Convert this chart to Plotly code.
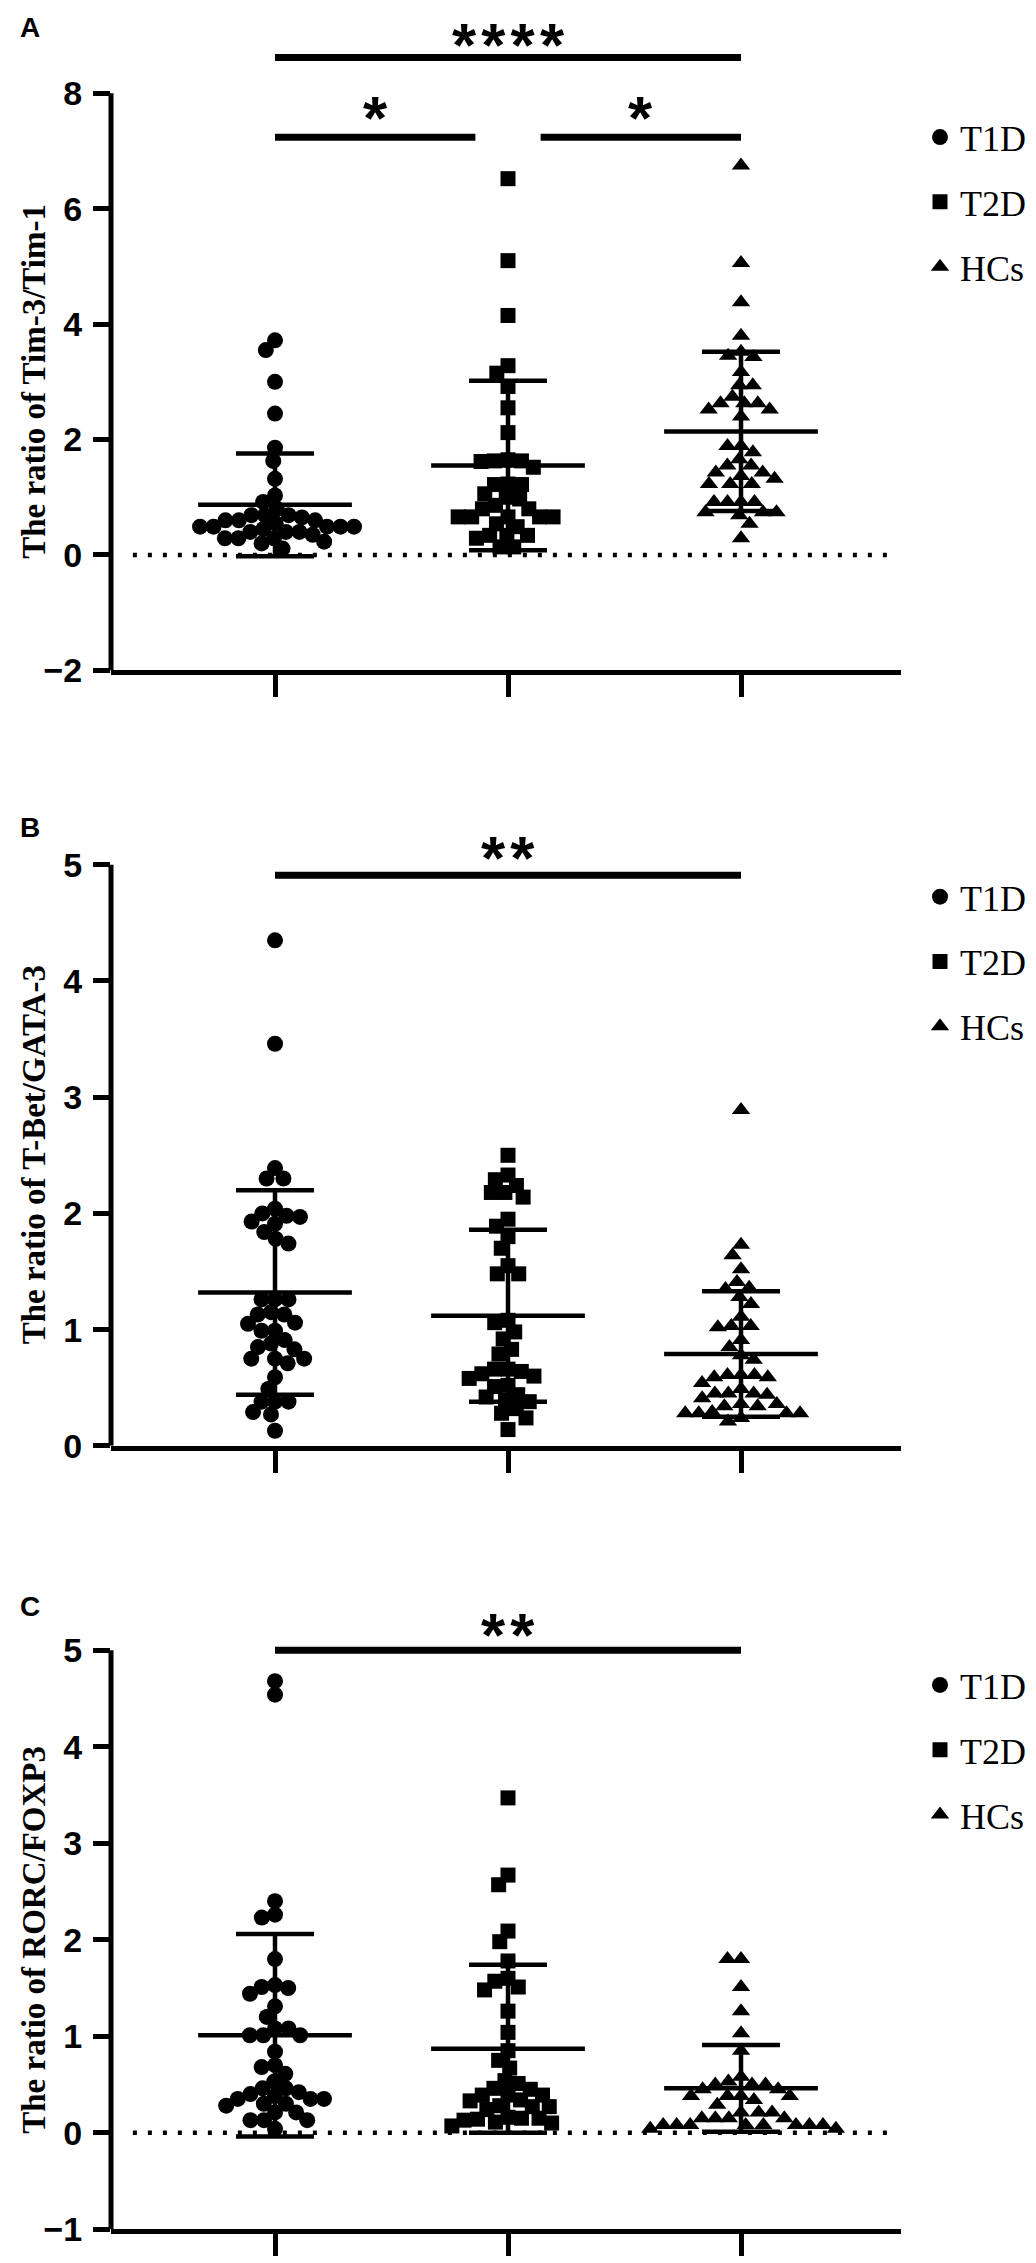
import math
import plotly.graph_objects as go

groups = ["T1D", "T2D", "HCs"]
symbols = ["circle", "square", "triangle-up"]

# panel A: Tim-3/Tim-1
tim_t1d = [3.72, 3.55, 3.0, 2.45, 1.86, 1.63, 1.32, 1.03, 0.92, 0.80, 0.69, 0.69, 0.69, 0.65,
           0.60, 0.60, 0.60, 0.55, 0.49, 0.49, 0.49, 0.49, 0.49, 0.45, 0.40, 0.40, 0.40, 0.35,
           0.29, 0.29, 0.29, 0.23, 0.20, 0.11]
tim_t2d = [6.52, 5.10, 4.15, 3.28, 3.15, 2.92, 2.55, 2.12, 1.65, 1.63, 1.63, 1.62, 1.52, 1.23,
           1.22, 1.22, 1.06, 1.00, 0.97, 0.86, 0.80, 0.80, 0.66, 0.66, 0.66, 0.66, 0.66, 0.54,
           0.49, 0.34, 0.34, 0.34, 0.29, 0.14, 0.14]
tim_hcs = [6.75, 5.06, 4.38, 3.80, 3.52, 3.45, 3.43, 3.17, 2.94, 2.94, 2.74, 2.63, 2.63, 2.63,
           2.52, 2.52, 2.40, 1.89, 1.89, 1.78, 1.66, 1.55, 1.55, 1.43, 1.43, 1.37, 1.32, 1.23,
           1.23, 1.23, 0.92, 0.92, 0.92, 0.92, 0.74, 0.74, 0.74, 0.69, 0.54, 0.29]
tim_mean = [0.87, 1.55, 2.14]
tim_sd = [0.89, 1.47, 1.38]

# panel B: T-Bet/GATA-3
tbet_t1d = [4.35, 3.46, 2.39, 2.30, 2.30, 2.04, 2.00, 1.98, 1.97, 1.93, 1.91, 1.84, 1.78, 1.74,
            1.26, 1.26, 1.26, 1.15, 1.13, 1.13, 1.06, 1.05, 0.99, 0.99, 0.91, 0.88, 0.85, 0.83,
            0.75, 0.75, 0.75, 0.71, 0.59, 0.49, 0.38, 0.38, 0.38, 0.29, 0.27, 0.13]
tbet_t2d = [2.50, 2.33, 2.29, 2.24, 2.18, 2.18, 2.14, 1.95, 1.89, 1.80, 1.70, 1.55, 1.48, 1.48,
            1.08, 1.06, 0.98, 0.92, 0.83, 0.79, 0.66, 0.66, 0.64, 0.62, 0.60, 0.58, 0.52, 0.51,
            0.44, 0.42, 0.39, 0.38, 0.32, 0.28, 0.24, 0.14]
tbet_hcs = [2.89, 1.73, 1.64, 1.52, 1.41, 1.36, 1.35, 1.28, 1.22, 1.11, 1.03, 1.03, 1.02, 0.91,
            0.85, 0.78, 0.74, 0.61, 0.61, 0.61, 0.59, 0.59, 0.54, 0.49, 0.45, 0.45, 0.45, 0.44,
            0.41, 0.36, 0.36, 0.34, 0.34, 0.29, 0.28, 0.28, 0.28, 0.28, 0.24, 0.21]
tbet_mean = [1.32, 1.12, 0.79]
tbet_sd = [0.88, 0.74, 0.54]

# panel C: RORC/FOXP3
rorc_t1d = [4.68, 4.54, 2.40, 2.26, 2.23, 1.80, 1.53, 1.51, 1.50, 1.44, 1.31, 1.20, 1.08, 1.08,
            1.01, 1.01, 1.01, 0.84, 0.70, 0.68, 0.61, 0.53, 0.46, 0.46, 0.42, 0.40, 0.38, 0.35,
            0.35, 0.35, 0.30, 0.30, 0.28, 0.21, 0.21, 0.13, 0.13, 0.13, 0.04]
rorc_t2d = [3.47, 2.67, 2.57, 2.09, 1.98, 1.78, 1.60, 1.57, 1.51, 1.48, 1.26, 1.04, 0.85, 0.75,
            0.67, 0.54, 0.51, 0.46, 0.45, 0.39, 0.39, 0.39, 0.34, 0.33, 0.28, 0.27, 0.27, 0.24,
            0.16, 0.15, 0.15, 0.14, 0.13, 0.11, 0.10, 0.07]
rorc_hcs = [1.80, 1.80, 1.51, 1.26, 1.03, 0.85, 0.58, 0.53, 0.50, 0.50, 0.50, 0.45, 0.45, 0.38,
            0.38, 0.38, 0.38, 0.34, 0.29, 0.21, 0.21, 0.21, 0.15, 0.15, 0.15, 0.15, 0.08, 0.08,
            0.08, 0.08, 0.08, 0.08, 0.08, 0.08, 0.04, 0.04]
rorc_mean = [1.01, 0.87, 0.46]
rorc_sd = [1.05, 0.87, 0.45]

W, H = 1036, 2263
X_LEFT, X_RIGHT = 103, 893          # axis extent in px
CAT_PX = 233                         # px between groups
XR = [-(267 - X_LEFT) / CAT_PX, 2 + (X_RIGHT - 733) / CAT_PX]
HAIR = "\u200a"

# ymax is the last tick; yr goes a bit higher so the significance bars fit
# bars: (x0, x1, bar y, stars, star y); star y None -> pinned to the top of the page
panels = [
    dict(letter="A", title="The ratio of Tim-3/Tim-1", bottom=668, ppu=58.2, yr=[-2, 9.45],
         ymax=8, dtick=2, data=[tim_t1d, tim_t2d, tim_hcs], mean=tim_mean, sd=tim_sd,
         zero=True, leg_y=124, label_y=20,
         bars=[(0, 2, 8.62, "****", None), (0, 0.86, 7.24, "*", 7.58), (1.14, 2, 7.24, "*", 7.58)]),
    dict(letter="B", title="The ratio of T-Bet/GATA-3", bottom=1450, ppu=117.2, yr=[0, 5.3],
         ymax=5, dtick=1, data=[tbet_t1d, tbet_t2d, tbet_hcs], mean=tbet_mean, sd=tbet_sd,
         zero=False, leg_y=890, label_y=826, bars=[(0, 2, 4.91, "**", 5.06)]),
    dict(letter="C", title="The ratio of RORC/FOXP3", bottom=2240, ppu=97.3, yr=[-1, 5.55],
         ymax=5, dtick=1, data=[rorc_t1d, rorc_t2d, rorc_hcs], mean=rorc_mean, sd=rorc_sd,
         zero=True, leg_y=1685, label_y=1612, bars=[(0, 2, 5.0, "**", 5.16)]),
]


def swarm(vals, px_per_unit, d=13.5):
    # simple beeswarm: each point goes to the nearest free spot from the centre
    order = sorted(range(len(vals)), key=lambda i: -vals[i])
    placed = []
    xs = [0.0] * len(vals)
    for i in order:
        y = vals[i] * px_per_unit
        blocked = []
        for (px, py) in placed:
            dy = abs(py - y)
            if dy < d:
                w = math.sqrt(d * d - dy * dy)
                blocked.append((px - w, px + w))
        cands = [0.0] + [b for iv in blocked for b in iv]
        cands.sort(key=lambda c: (abs(c), c))
        for c in cands:
            if all(not (lo + 1e-6 < c < hi - 1e-6) for lo, hi in blocked):
                xs[i] = c
                break
        placed.append((xs[i], y))
    return [x / CAT_PX for x in xs]


fig = go.Figure()
serif = "Liberation Serif, Times New Roman, serif"
sans = "Liberation Sans, Arial, sans-serif"

for k, p in enumerate(panels):
    n = "" if k == 0 else str(k + 1)
    xa, ya = "x" + n, "y" + n
    leg = "legend" + n
    ppu = p["ppu"]
    top_px = p["bottom"] - (p["yr"][1] - p["yr"][0]) * ppu

    for g in range(3):
        vals = p["data"][g]
        offs = swarm(vals, ppu)
        fig.add_trace(go.Scatter(
            x=[g + o for o in offs], y=vals, mode="markers", name=groups[g],
            marker=dict(symbol=symbols[g], size=15 if g == 1 else 16, color="black"),
            xaxis=xa, yaxis=ya, legend=leg, legendgroup=f"{k}{g}", cliponaxis=False))
        # sd whiskers
        fig.add_trace(go.Scatter(
            x=[g], y=[p["mean"][g]], mode="markers", marker=dict(size=1, color="rgba(0,0,0,0)"),
            error_y=dict(type="data", array=[p["sd"][g]], color="black", thickness=4.5, width=39),
            xaxis=xa, yaxis=ya, showlegend=False, hoverinfo="skip", cliponaxis=False))
        # mean line
        fig.add_trace(go.Scatter(
            x=[g - 0.33, g + 0.33], y=[p["mean"][g]] * 2, mode="lines",
            line=dict(color="black", width=4.5), xaxis=xa, yaxis=ya, showlegend=False,
            hoverinfo="skip", cliponaxis=False))

    fig.update_layout({
        "xaxis" + n: dict(domain=[X_LEFT / W, X_RIGHT / W], range=XR, showgrid=False, zeroline=False,
                          showline=True, linewidth=5, linecolor="black", ticks="outside",
                          tickvals=[0, 1, 2], ticklen=22, tickwidth=5, tickcolor="black",
                          showticklabels=False, anchor=ya),
        "yaxis" + n: dict(domain=[1 - p["bottom"] / H, 1 - top_px / H], range=p["yr"],
                          tickvals=list(range(p["yr"][0], p["ymax"] + 1, p["dtick"])),
                          showgrid=False, zeroline=False, showline=False,
                          ticks="outside", ticklen=17, tickwidth=5, tickcolor="black",
                          tickfont=dict(family=sans, size=34, color="black", weight=700),
                          anchor=xa, ticklabelstandoff=4),
        leg: dict(x=(952 - 40) / W, y=1 - (p["leg_y"] - 24) / H, xanchor="left", yanchor="top",
                  font=dict(family=serif, size=36, color="black"), bgcolor="rgba(0,0,0,0)",
                  tracegroupgap=15, itemsizing="trace"),
    })

    # y axis line only up to the last tick
    fig.add_shape(type="line", xref="paper", yref=ya, x0=X_LEFT / W, x1=X_LEFT / W,
                  y0=p["yr"][0], y1=p["ymax"], line=dict(color="black", width=5))

    if p["zero"]:
        fig.add_shape(type="line", xref=xa, yref=ya, x0=-0.61, x1=2.66, y0=0, y1=0,
                      line=dict(color="black", width=4.5, dash="4px,11px"), layer="below")

    for (x0, x1, yb, stars, ys) in p["bars"]:
        fig.add_shape(type="line", xref=xa, yref=ya, x0=x0, x1=x1, y0=yb, y1=yb,
                      line=dict(color="black", width=7))
        label = HAIR.join(stars)
        star_font = dict(family=sans, size=62, color="black", weight=700)
        if ys is None:
            fig.add_annotation(x=(x0 + x1) / 2, y=1, xref=xa, yref="paper", text=label,
                               showarrow=False, xanchor="center", yanchor="top", font=star_font)
        else:
            fig.add_annotation(x=(x0 + x1) / 2, y=ys, xref=xa, yref=ya, text=label,
                               showarrow=False, xanchor="center", yanchor="middle", font=star_font)

    fig.add_annotation(x=10 / W, y=1 - p["label_y"] / H, xref="paper", yref="paper",
                       text="<b>" + p["letter"] + "</b>", showarrow=False, xanchor="left",
                       yanchor="middle", font=dict(family=sans, size=28, color="black"))
    mid_px = p["bottom"] - (p["ymax"] - p["yr"][0]) * ppu / 2
    fig.add_annotation(x=26 / W, y=1 - mid_px / H, xref="paper", yref="paper",
                       text="<b>" + p["title"] + "</b>", textangle=-90, xanchor="center",
                       yanchor="middle", showarrow=False,
                       font=dict(family=serif, size=33, color="black"))

fig.update_layout(width=W, height=H, margin=dict(l=0, r=0, t=0, b=0),
                  plot_bgcolor="white", paper_bgcolor="white", showlegend=True)

fig.write_html("out.html")
